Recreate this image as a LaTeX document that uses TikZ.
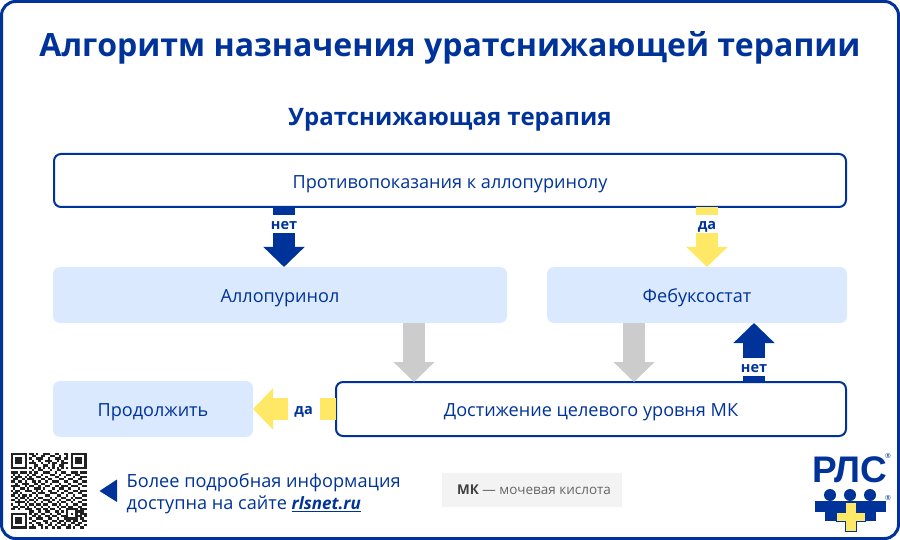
\documentclass[tikz,border=0pt]{standalone}
\usepackage{fontspec}
\setmainfont{Open Sans}
\newfontfamily\logofont{Liberation Sans}
\usetikzlibrary{arrows.meta,positioning}
\definecolor{navy}{HTML}{003399}
\definecolor{paleblue}{HTML}{DBE9FF}
\definecolor{softyellow}{HTML}{FFE866}
\definecolor{softgrey}{HTML}{CCCCCC}
\definecolor{legendgrey}{HTML}{F3F3F3}
\definecolor{qrdark}{HTML}{222222}
\tikzstyle{frame} = [rectangle, draw=navy, line width=3pt, rounded corners=14pt, minimum width=897pt, minimum height=537pt, outer sep=0pt]
\tikzstyle{block} = [rectangle, fill=paleblue, text=navy, rounded corners=7pt, minimum height=56pt, outer sep=0pt, text height=18pt, text depth=2.5pt, font=\fontsize{18.1}{22}\selectfont]
\tikzstyle{blockw} = [rectangle, draw=navy, line width=2pt, fill=white, text=navy, rounded corners=7pt, outer sep=0pt, text height=18pt, text depth=2.5pt, font=\fontsize{18.1}{22}\selectfont]
\tikzstyle{line} = [draw, line width=22pt, -{Triangle[length=20pt,width=40pt]}]
\tikzstyle{gap} = [fill=white, text=navy, inner sep=0pt, minimum width=30pt, minimum height=18pt, text height=12pt, text depth=1pt, font=\fontsize{14.5}{16}\selectfont\bfseries]
\tikzstyle{gaph} = [gap, minimum width=32pt, minimum height=26pt]
\begin{document}
\begin{tikzpicture}[x=1pt, y=-1pt]
    \useasboundingbox (0,0) rectangle (900,540);
    \node [frame] (page) at (450,270) {};
    \node [text=navy, font=\fontsize{32.05}{38}\selectfont\bfseries] (title) at (450,48) {Алгоритм назначения уратснижающей терапии};
    \node [text=navy, below=37pt of title, font=\fontsize{24}{28}\selectfont\bfseries] (subtitle) {Уратснижающая терапия};
    \node [blockw, minimum width=792pt, minimum height=53pt] (contra) at (450,180.5) {Противопоказания к аллопуринолу};
    \node [block, minimum width=454pt, below right=60pt and -1pt of contra.south west] (allop) {Аллопуринол};
    \node [block, minimum width=300pt, right=40pt of allop] (febu) {Фебуксостат};
    \node [block, minimum width=200pt, below right=58pt and 0pt of allop.south west] (cont) {Продолжить};
    \node [blockw, minimum width=510pt, minimum height=54pt, right=83pt of cont] (target) {Достижение целевого уровня МК};
    \coordinate (netc) at (284,0);
    \coordinate (dac) at (707,0);
    \coordinate (greya) at (414,0);
    \coordinate (greyb) at (634,0);
    \coordinate (netb) at (754,0);
    \path [line, navy] (netc |- contra.south) -- (netc |- allop.north) node [gap, pos=0.28] (netl) {нет};
    \path [line, softyellow] (dac |- contra.south) -- (dac |- febu.north) node [gap, pos=0.28] (dal) {да};
    \path [line, softgrey] (greya |- allop.south) -- (greya |- target.north);
    \path [line, softgrey] (greyb |- febu.south) -- (greyb |- target.north);
    \path [line, navy] (netb |- target.north) -- (netb |- febu.south) node [gap, pos=0.25] (netu) {нет};
    \path [line, softyellow] (target.west) -- (cont.east) node [gaph, pos=0.39] (dah) {да};
    % qr
    \node [rectangle, minimum size=76pt, inner sep=0pt] (qr) at (49,491) {};
    \begin{scope}[shift={(qr.north west)}, x=2.303pt, y=-2.303pt]
        \foreach \cx/\cy in {0/0, 26/0, 0/26} {
            \draw [qrdark, line width=2.303pt] (\cx+0.5,\cy+0.5) rectangle (\cx+6.5,\cy+6.5);
            \fill [qrdark] (\cx+2,\cy+2) rectangle (\cx+5,\cy+5);
        }
        \draw [qrdark, line width=2.303pt] (24.5,24.5) rectangle (28.5,28.5);
        \fill [qrdark] (26,26) rectangle (27,27);
        \foreach \j/\runs in {
            0/{8/9,11/11,14/16,19/20,23/24}, 1/{9/10,13/14,17/18,21/21,24/24},
            2/{8/8,11/13,16/16,19/21,23/24}, 3/{9/9,12/12,15/17,20/20,22/22},
            4/{8/10,13/13,16/16,18/19,22/24}, 5/{10/11,14/15,18/18,21/22},
            6/{8/8,10/10,12/12,14/14,16/16,18/18,20/20,22/22,24/24}, 7/{9/9,12/13,17/17,20/21},
            8/{0/2,4/6,8/8,10/11,14/16,19/19,22/23,26/28,30/32}, 9/{1/1,3/3,7/7,9/10,13/13,17/18,21/21,24/25,28/29},
            10/{0/0,2/4,6/6,8/8,11/12,15/15,19/20,23/23,27/27,30/32}, 11/{1/2,5/5,7/9,13/14,16/17,21/22,25/26,29/30},
            12/{0/1,3/4,6/6,9/10,12/12,15/15,18/20,23/24,27/28,31/32}, 13/{2/2,5/7,10/11,13/14,17/17,21/21,25/25,29/30},
            14/{0/3,6/6,8/9,12/12,15/16,19/20,22/24,26/28,31/32}, 15/{1/1,4/5,7/7,10/12,14/14,18/18,21/22,25/25,29/29},
            16/{0/0,2/3,6/8,11/11,13/13,16/17,20/20,23/24,27/28,30/32}, 17/{1/2,4/4,9/10,12/14,17/19,22/22,25/26,29/30},
            18/{0/1,3/3,5/6,8/8,11/11,15/16,20/21,24/24,27/27,31/32}, 19/{2/2,4/5,7/7,10/10,12/13,17/17,19/19,22/23,26/26,28/30},
            20/{0/1,3/3,6/6,8/9,11/11,14/16,18/18,21/21,24/25,27/27,31/32}, 21/{2/5,7/7,10/10,13/13,16/17,20/20,22/23,26/26,29/30},
            22/{0/0,3/3,6/6,8/9,11/12,14/15,18/19,21/21,24/24,27/28,31/32}, 23/{1/2,4/5,7/7,10/10,13/13,16/16,20/20,22/23,25/26,29/30},
            24/{0/1,3/3,6/8,11/12,14/15,17/18,21/21,30/32}, 25/{8/9,12/12,15/16,19/20,22/22,29/31},
            26/{8/8,10/11,13/14,17/17,20/21,30/32}, 27/{9/10,12/12,15/16,18/19,22/23,29/30,32/32},
            28/{8/8,11/13,16/17,20/20,23/24,30/31}, 29/{9/10,14/15,18/19,21/22,24/25,27/28,31/32},
            30/{8/8,11/12,15/15,17/17,20/21,23/23,26/27,29/30}, 31/{9/9,12/13,16/17,19/19,22/23,25/25,28/29,32/32},
            32/{8/10,13/13,15/15,18/18,20/21,24/25,27/27,30/31}} {
            \foreach \a/\b in \runs {
                \fill [qrdark] (\a,\j) rectangle (\b+1,\j+1);
            }
        }
    \end{scope}
    % footer
    \fill [navy] (117,479.5) -- (117,502) -- (99.5,491) -- cycle;
    \node [right=1pt of qr, xshift=35pt, yshift=-3pt, align=left, text=navy, font=\fontsize{18.15}{22}\selectfont] (info) {Более подробная информация\\доступна на сайте \underline{\fontsize{17}{22}\selectfont\textbf{\textit{rlsnet.ru}}}};
    \node [rectangle, fill=legendgrey, minimum width=180pt, minimum height=34pt, text=black!75, font=\fontsize{13.5}{16}\selectfont] (legend) at (532,490) {\hspace*{4pt}\textbf{МК} \textcolor{black!60}{--- мочевая кислота}};
    % logo
    \node [text=navy, inner sep=0pt, font=\logofont\fontsize{37}{38}\selectfont\bfseries] (logotext) at (850,470) {РЛС};
    \foreach \cx in {830,850,870} {
        \fill [navy] (\cx,495) circle (6);
    }
    \fill [navy] (815,501) rectangle (886,512);
    \fill [navy] (825,512) rectangle (876,521);
    \fill [softyellow, draw=navy, line width=0.5pt] (845,502) -- (856,502) -- (856,512) -- (865,512) -- (865,521) -- (856,521) -- (856,531) -- (845,531) -- (845,521) -- (836,521) -- (836,512) -- (845,512) -- cycle;
    \node [text=navy, inner sep=0pt, font=\fontsize{7}{8}\selectfont] (rega) at (888,456) {®};
    \node [text=navy, inner sep=0pt, font=\fontsize{7}{8}\selectfont] (regb) at (888,498) {®};
\end{tikzpicture}
\end{document}
